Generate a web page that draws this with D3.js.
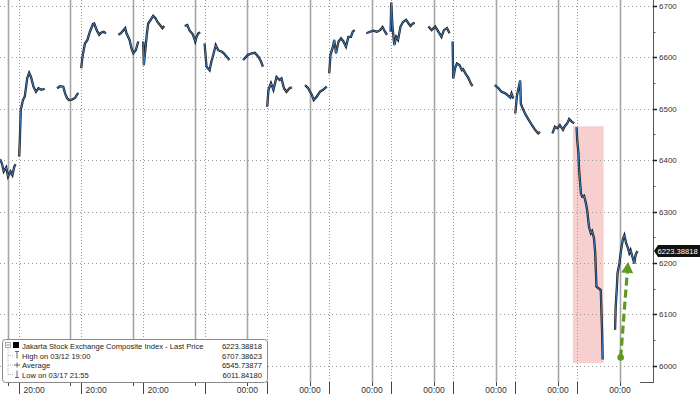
<!DOCTYPE html>
<html>
<head>
<meta charset="utf-8">
<script src="https://cdn.jsdelivr.net/npm/d3@7"></script>
<style>
  body { margin: 0; background: #fff; }
  svg { display: block; font-family: "Liberation Sans", Arial, sans-serif; }
</style>
</head>
<body>
<div id="chart"></div>
<script>
// x positions are in "day columns" of the chart (one solid gridline per column)
const segA = [[0,6402],[0.03,6394],[0.06,6378],[0.1,6386],[0.13,6368],[0.17,6378],[0.2,6371],[0.23,6387],[0.25,6392]];
const segB = [[0.31,6407],[0.32,6440],[0.335,6498],[0.37,6517],[0.4,6524],[0.44,6560],[0.47,6570],[0.5,6562],[0.54,6543],[0.58,6533],[0.62,6540],[0.67,6537],[0.72,6539]];
const segC = [[0.92,6540],[0.97,6544],[1.02,6543],[1.05,6530],[1.08,6521],[1.11,6517],[1.16,6518],[1.21,6521],[1.26,6531]];
const segD = [[1.31,6579],[1.33,6601],[1.37,6627],[1.41,6634],[1.45,6650],[1.5,6665],[1.52,6666],[1.56,6653],[1.6,6644],[1.63,6648],[1.67,6650],[1.71,6647]];
const segE = [[1.91,6644],[1.95,6647],[1.99,6653],[2.02,6657],[2.04,6647],[2.09,6634],[2.12,6618],[2.15,6608],[2.19,6614],[2.23,6631]];
const segF = [[2.31,6631],[2.32,6585],[2.37,6647],[2.39,6666],[2.43,6673],[2.47,6681],[2.51,6676],[2.54,6669],[2.58,6663],[2.62,6657],[2.65,6661]];
const segG = [[2.98,6661],[3.02,6663],[3.06,6652],[3.11,6645],[3.15,6631],[3.17,6640],[3.2,6647],[3.23,6648]];
const segH = [[3.3,6627],[3.33,6582],[3.38,6575],[3.41,6592],[3.44,6605],[3.48,6624],[3.52,6614],[3.58,6611],[3.61,6608],[3.66,6601],[3.7,6595]];
const segI = [[3.92,6595],[4.0,6605],[4.06,6608],[4.11,6609],[4.17,6601],[4.21,6592],[4.24,6582]];
const segJ = [[4.31,6504],[4.33,6537],[4.37,6550],[4.41,6537],[4.46,6562],[4.51,6556],[4.54,6559],[4.58,6540],[4.62,6533],[4.67,6540],[4.71,6542]];
const segK = [[4.92,6546],[4.97,6540],[5.03,6527],[5.06,6517],[5.11,6524],[5.16,6533],[5.21,6537],[5.27,6543]];
const segL = [[5.31,6569],[5.33,6605],[5.37,6621],[5.39,6634],[5.42,6608],[5.46,6631],[5.5,6637],[5.54,6631],[5.58,6621],[5.62,6640],[5.66,6640],[5.69,6650],[5.72,6653]];
const segM = [[5.91,6647],[5.97,6650],[6.02,6652],[6.08,6650],[6.13,6653],[6.17,6659],[6.21,6650],[6.24,6644]];
const segN = [[6.3,6650],[6.31,6707],[6.33,6660],[6.36,6624],[6.39,6640],[6.42,6634],[6.46,6660],[6.5,6669],[6.55,6673],[6.59,6666],[6.62,6661],[6.66,6666],[6.69,6667]];
const segO = [[6.91,6660],[6.96,6653],[7.02,6660],[7.07,6650],[7.12,6640],[7.16,6653],[7.21,6657],[7.25,6647]];
const segP = [[7.3,6631],[7.31,6559],[7.34,6579],[7.37,6588],[7.41,6585],[7.45,6575],[7.47,6577],[7.52,6566],[7.55,6561],[7.59,6550],[7.62,6544]];
const segQ = [[7.98,6546],[8.04,6540],[8.09,6533],[8.15,6530],[8.18,6527],[8.23,6522],[8.25,6530],[8.28,6520]];
const segR = [[8.31,6491],[8.34,6527],[8.39,6555],[8.4,6510],[8.44,6498],[8.48,6488],[8.52,6480],[8.58,6468],[8.63,6459],[8.68,6452],[8.71,6455]];
const segS = [[8.91,6452],[8.95,6465],[8.99,6462],[9.03,6468],[9.08,6459],[9.11,6466],[9.15,6472],[9.18,6480],[9.22,6475],[9.26,6472]];
const segT = [[9.3,6464],[9.31,6439],[9.33,6413],[9.34,6381],[9.37,6335],[9.39,6329],[9.42,6331],[9.45,6316],[9.47,6303],[9.5,6270],[9.53,6258],[9.55,6262],[9.58,6248],[9.6,6219],[9.61,6186],[9.62,6154],[9.69,6147],[9.7,6108],[9.71,6070],[9.72,6012]];
const segU = [[9.92,6070],[9.93,6115],[9.95,6154],[9.96,6180],[9.99,6199],[10.01,6219],[10.03,6235],[10.05,6248],[10.07,6254],[10.1,6238],[10.12,6232],[10.15,6219],[10.17,6225],[10.2,6212],[10.23,6199],[10.25,6215],[10.28,6223.39]];
const sessions = [segA, segB, segC, segD, segE, segF, segG, segH, segI, segJ, segK, segL, segM, segN, segO, segP, segQ, segR, segS, segT, segU];

const solidLines = [0.13, 1.13, 2.14, 3.14, 3.99, 5, 6, 7, 8, 9, 10];
const dottedLines = [0.31, 1.31, 2.31, 3.31, 4.31, 5.31, 6.31, 7.31, 8.31, 9.31];
const xLabelPos = [0.55, 1.55, 2.55, 3.99, 5, 6, 7, 8, 9, 10];
const xLabelText = ["20:00", "20:00", "20:00", "00:00", "00:00", "00:00", "00:00", "00:00", "00:00", "00:00"];
const yTicks = [6000, 6100, 6200, 6300, 6400, 6500, 6600, 6700];
const yMinorTicks = [6050, 6150, 6250, 6350, 6450, 6550, 6650];

const lastPrice = 6223.38818;
const legendLabels = ["Jakarta Stock Exchange Composite Index - Last Price", "High on 03/12 19:00", "Average", "Low on 03/17 21:55"];
const legendValues = ["6223.38818", "6707.38623", "6545.73877", "6011.84180"];

const crashBox = { x0: 9.24, x1: 9.735, top: 6466, bottom: 6005 };
const rebound = { x0: 10.01, v0: 6016, x1: 10.13, v1: 6202 };

const W = 700, H = 394;
const plotW = 653, plotH = 382;

const svg = d3.select("#chart").append("svg")
    .attr("width", W)
    .attr("height", H);

const x = d3.scaleLinear().domain([0, 10.532]).range([0, plotW]);
const y = d3.scaleLinear().domain([5968.3, 6711.7]).range([plotH, 0]);

// highlight box behind everything
svg.append("rect")
    .attr("x", x(crashBox.x0))
    .attr("y", y(crashBox.top))
    .attr("width", x(crashBox.x1) - x(crashBox.x0))
    .attr("height", y(crashBox.bottom) - y(crashBox.top))
    .attr("fill", "#f7cfcf");

// horizontal dotted grid
svg.append("g").selectAll("line").data(yTicks).enter().append("line")
    .attr("x1", 0).attr("x2", plotW)
    .attr("y1", d => Math.round(y(d)) + 0.5).attr("y2", d => Math.round(y(d)) + 0.5)
    .attr("stroke", "#9a9a9a").attr("stroke-width", 1).attr("stroke-dasharray", "1,3");

// vertical grid
svg.append("g").selectAll("line").data(solidLines).enter().append("line")
    .attr("x1", d => Math.round(x(d)) + 0.5).attr("x2", d => Math.round(x(d)) + 0.5)
    .attr("y1", 0).attr("y2", plotH)
    .attr("stroke", "#a6a6a6").attr("stroke-width", 1.6);

svg.append("g").selectAll("line").data(dottedLines).enter().append("line")
    .attr("x1", d => Math.round(x(d)) + 0.5).attr("x2", d => Math.round(x(d)) + 0.5)
    .attr("y1", 0).attr("y2", plotH)
    .attr("stroke", "#9a9a9a").attr("stroke-width", 1).attr("stroke-dasharray", "1,2");

// x axis band ticks and labels
svg.append("g").selectAll("line").data(dottedLines).enter().append("line")
    .attr("x1", d => Math.round(x(d)) + 0.5).attr("x2", d => Math.round(x(d)) + 0.5)
    .attr("y1", plotH).attr("y2", H)
    .attr("stroke", "#444").attr("stroke-width", 1);
svg.append("g").selectAll("line").data(solidLines).enter().append("line")
    .attr("x1", d => Math.round(x(d)) + 0.5).attr("x2", d => Math.round(x(d)) + 0.5)
    .attr("y1", plotH).attr("y2", plotH + 4)
    .attr("stroke", "#444").attr("stroke-width", 1);

svg.append("g").selectAll("text").data(xLabelPos).enter().append("text")
    .attr("x", d => x(d))
    .attr("y", 393)
    .attr("text-anchor", "middle")
    .attr("font-size", 8.5)
    .attr("fill", "#333")
    .text((d, i) => xLabelText[i]);

// price series
const line = d3.line().x(d => x(d[0])).y(d => y(d[1]));
const series = svg.append("g");
sessions.forEach(s => {
    series.append("path").datum(s)
        .attr("fill", "none").attr("stroke", "#1c1c1c")
        .attr("stroke-width", 2.3).attr("stroke-linejoin", "miter")
        .attr("d", line);
    series.append("path").datum(s)
        .attr("fill", "none").attr("stroke", "#3f86d3")
        .attr("stroke-width", 0.9)
        .attr("d", line);
});

// right axis
const axisG = svg.append("g");
axisG.append("line")
    .attr("x1", plotW + 0.5).attr("x2", plotW + 0.5)
    .attr("y1", 0).attr("y2", plotH + 1)
    .attr("stroke", "#555").attr("stroke-width", 1);
axisG.append("line")
    .attr("x1", plotW - 13).attr("x2", plotW + 0.5)
    .attr("y1", plotH + 0.5).attr("y2", plotH + 0.5)
    .attr("stroke", "#555").attr("stroke-width", 1);
axisG.selectAll(".maj").data(yTicks).enter().append("line")
    .attr("x1", plotW).attr("x2", plotW + 4)
    .attr("y1", d => Math.round(y(d)) + 0.5).attr("y2", d => Math.round(y(d)) + 0.5)
    .attr("stroke", "#222").attr("stroke-width", 1.5);
axisG.selectAll(".min").data(yMinorTicks).enter().append("line")
    .attr("x1", plotW).attr("x2", plotW + 2.5)
    .attr("y1", d => Math.round(y(d)) + 0.5).attr("y2", d => Math.round(y(d)) + 0.5)
    .attr("stroke", "#555").attr("stroke-width", 1);
axisG.selectAll("text").data(yTicks).enter().append("text")
    .attr("x", plotW + 6)
    .attr("y", d => y(d) + 3)
    .attr("font-size", 8)
    .attr("fill", "#333")
    .text(d => d);

// last price tag
const ty = y(lastPrice);
svg.append("path")
    .attr("d", `M${plotW + 1},${ty} L${plotW + 5},${ty - 6} L${W},${ty - 6} L${W},${ty + 6} L${plotW + 5},${ty + 6} Z`)
    .attr("fill", "#111");
svg.append("text")
    .attr("x", plotW + 4.5)
    .attr("y", ty + 2.8)
    .attr("font-size", 7.6)
    .attr("fill", "#fff")
    .text(lastPrice.toFixed(5));

// rebound arrow
const arrowG = svg.append("g");
const ax0 = x(rebound.x0), ay0 = y(rebound.v0), ax1 = x(rebound.x1), ay1 = y(rebound.v1);
const ang = Math.atan2(ay1 - ay0, ax1 - ax0);
const headLen = 11, headW = 6;
const bx = ax1 - headLen * Math.cos(ang), by = ay1 - headLen * Math.sin(ang);
arrowG.append("line")
    .attr("x1", ax0).attr("y1", ay0).attr("x2", bx).attr("y2", by)
    .attr("stroke", "#5e9a1e").attr("stroke-width", 3.2).attr("stroke-dasharray", "8,4");
arrowG.append("path")
    .attr("d", `M${ax1},${ay1} L${bx + headW * Math.sin(ang)},${by - headW * Math.cos(ang)} L${bx - headW * Math.sin(ang)},${by + headW * Math.cos(ang)} Z`)
    .attr("fill", "#5e9a1e");
arrowG.append("circle")
    .attr("cx", ax0).attr("cy", ay0).attr("r", 3.3)
    .attr("fill", "#5e9a1e");

// legend
const lg = svg.append("g");
lg.append("rect")
    .attr("x", 2.5).attr("y", 339.5).attr("width", 265).attr("height", 43)
    .attr("rx", 3)
    .attr("fill", "#fff").attr("stroke", "#8a8a8a");
const rowY = [346, 355.5, 365, 374.5];
// tree lines
lg.append("rect").attr("x", 5.5).attr("y", rowY[0] - 3.5).attr("width", 5).attr("height", 5)
    .attr("fill", "#fff").attr("stroke", "#999").attr("stroke-width", 0.8);
lg.append("line").attr("x1", 6.5).attr("x2", 9.5).attr("y1", rowY[0] - 1).attr("y2", rowY[0] - 1)
    .attr("stroke", "#666").attr("stroke-width", 0.8);
lg.append("rect").attr("x", 13).attr("y", rowY[0] - 4).attr("width", 6).attr("height", 6).attr("fill", "#000");
lg.append("line").attr("x1", 8).attr("x2", 8).attr("y1", rowY[0] + 2).attr("y2", rowY[3])
    .attr("stroke", "#aaa").attr("stroke-width", 0.8).attr("stroke-dasharray", "1,1");
rowY.slice(1).forEach(ry => {
    lg.append("line").attr("x1", 8).attr("x2", 13).attr("y1", ry).attr("y2", ry)
        .attr("stroke", "#aaa").attr("stroke-width", 0.8).attr("stroke-dasharray", "1,1");
});
// row icons
lg.append("path").attr("d", `M15,${rowY[1] - 4} L19,${rowY[1] - 4} M17,${rowY[1] - 4} L17,${rowY[1] + 3}`)
    .attr("stroke", "#555").attr("stroke-width", 0.9).attr("fill", "none");
lg.append("path").attr("d", `M14,${rowY[2]} L20,${rowY[2]} M17,${rowY[2] - 2.5} L17,${rowY[2] + 2.5}`)
    .attr("stroke", "#555").attr("stroke-width", 0.9).attr("fill", "none");
lg.append("path").attr("d", `M17,${rowY[3] - 4} L17,${rowY[3] + 3} M15,${rowY[3] + 3} L19,${rowY[3] + 3}`)
    .attr("stroke", "#555").attr("stroke-width", 0.9).attr("fill", "none");

lg.selectAll(".lab").data(legendLabels).enter().append("text")
    .attr("x", 22).attr("y", (d, i) => rowY[i] + 3)
    .attr("font-size", 7.6).attr("fill", "#222")
    .text(d => d);
lg.selectAll(".val").data(legendValues).enter().append("text")
    .attr("x", 262).attr("y", (d, i) => rowY[i] + 3)
    .attr("text-anchor", "end")
    .attr("font-size", 7.6).attr("fill", "#222")
    .text(d => d);
</script>
</body>
</html>
